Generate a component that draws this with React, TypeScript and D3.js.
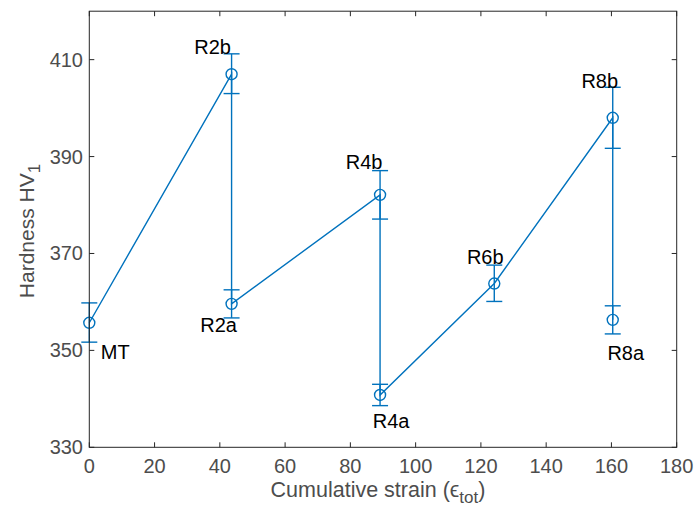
import React from "react";
import * as d3 from "d3";

const labels = ["MT", "R2b", "R2a", "R4b", "R4a", "R6b", "R8b", "R8a"];
const strain = [0, 43.6, 43.6, 89.1, 89.1, 124.1, 160.4, 160.4];
const hardness = [355.7, 407.0, 359.6, 382.1, 340.8, 363.8, 398.0, 356.3];
const errLow = [4.0, 4.0, 2.9, 5.0, 2.2, 3.7, 6.3, 2.9];
const errHigh = [4.1, 4.2, 2.9, 5.0, 2.2, 3.8, 6.3, 2.9];
const xTicks = [0, 20, 40, 60, 80, 100, 120, 140, 160, 180];
const yTicks = [330, 350, 370, 390, 410];
// label offsets (dx, dy) relative to point, in px
const labelOffsets: [number, number][] = [
  [26, 29], [-19, -27], [-13, 21], [-16, -33], [11, 26], [-9, -27], [-13, -37], [13, 33],
];

const W = 694, H = 506;
const left = 89.3, right = 676.7, top = 11.2, bottom = 447.3;
const color = "#0072BD";
const axisColor = "#262626";
const tickColor = "#4d4d4d";
const font = "Helvetica, Arial, 'Liberation Sans', sans-serif";

export default function App() {
  const x = d3.scaleLinear().domain([0, 180]).range([left, right]);
  const y = d3.scaleLinear().domain([330, 420]).range([bottom, top]);
  const pts = strain.map((s, i) => [x(s), y(hardness[i])] as [number, number]);
  const line = d3.line()(pts) || "";
  const tl = 5;
  return (
    <svg width={W} height={H} style={{ position: "absolute", left: 0, top: 0, background: "#fff" }}>
      <rect x={0} y={0} width={W} height={H} fill="#fff" />
      <path d={line} fill="none" stroke={color} strokeWidth={1.4} />
      {strain.map((s, i) => {
        const cx = x(s);
        const y1 = y(hardness[i] + errHigh[i]);
        const y2 = y(hardness[i] - errLow[i]);
        return (
          <g key={"e" + i} stroke={color} strokeWidth={1.4}>
            <line x1={cx} x2={cx} y1={y1} y2={y2} />
            <line x1={cx - 8} x2={cx + 8} y1={y1} y2={y1} />
            <line x1={cx - 8} x2={cx + 8} y1={y2} y2={y2} />
          </g>
        );
      })}
      {pts.map((p, i) => (
        <circle key={"c" + i} cx={p[0]} cy={p[1]} r={5.5} fill="none" stroke={color} strokeWidth={1.4} />
      ))}
      <rect x={left} y={top} width={right - left} height={bottom - top} fill="none" stroke={axisColor} strokeWidth={1} />
      {xTicks.map((t) => (
        <g key={"xt" + t}>
          <line x1={x(t)} x2={x(t)} y1={bottom} y2={bottom - tl} stroke={axisColor} />
          <line x1={x(t)} x2={x(t)} y1={top} y2={top + tl} stroke={axisColor} />
          <text x={x(t)} y={473} textAnchor="middle" fontFamily={font} fontSize={20} fill={tickColor}>{t}</text>
        </g>
      ))}
      {yTicks.map((t) => (
        <g key={"yt" + t}>
          <line x1={left} x2={left + tl} y1={y(t)} y2={y(t)} stroke={axisColor} />
          <line x1={right} x2={right - tl} y1={y(t)} y2={y(t)} stroke={axisColor} />
          <text x={83} y={y(t) + 7} textAnchor="end" fontFamily={font} fontSize={20} fill={tickColor}>{t}</text>
        </g>
      ))}
      {labels.map((l, i) => (
        <text key={"l" + i} x={pts[i][0] + labelOffsets[i][0]} y={pts[i][1] + labelOffsets[i][1] + 7}
          textAnchor="middle" fontFamily={font} fontSize={20} fill="#000">{l}</text>
      ))}
      <text x={378} y={497} textAnchor="middle" fontFamily={font} fontSize={21.5} fill={tickColor}>
        Cumulative strain (ϵ<tspan fontSize={17} dy={6}>tot</tspan><tspan dy={-6}>)</tspan>
      </text>
      <text transform={`translate(34, 231) rotate(-90)`} textAnchor="middle" fontFamily={font} fontSize={21} fill={tickColor}>
        Hardness HV<tspan fontSize={17} dy={6}>1</tspan>
      </text>
    </svg>
  );
}
